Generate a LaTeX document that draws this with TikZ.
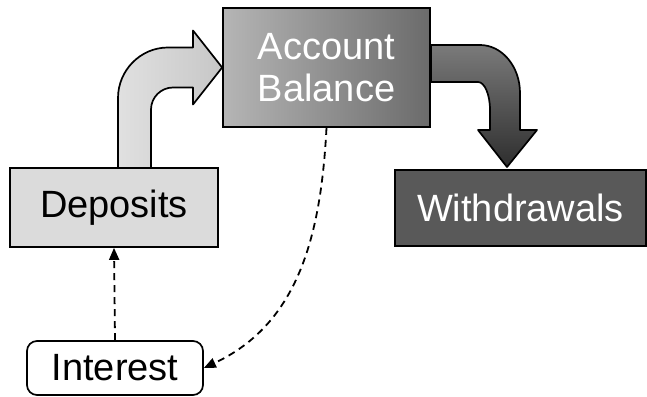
\documentclass[tikz,border=0pt]{standalone}
\usepackage{fontspec}
\setmainfont{Liberation Sans}
\usepackage{tikz}
\usetikzlibrary{arrows.meta, positioning, calc}

\begin{document}
\begin{tikzpicture}[
  x=0.5pt, y=0.5pt,
  box/.style      = {rectangle, draw=black, line width=0.85pt, inner sep=0pt,
                     font=\fontsize{19}{21}\selectfont, align=center},
  balance/.style  = {box, left color=black!29, right color=black!58, text=white,
                     minimum width=103.5pt, minimum height=59.5pt},
  deposit/.style  = {box, fill=black!14,
                     minimum width=104pt, minimum height=39.5pt},
  withdraw/.style = {box, fill=black!65, text=white,
                     minimum width=125.5pt, minimum height=38pt},
  extra/.style    = {box, rounded corners=5pt, fill=white,
                     minimum width=88pt, minimum height=27pt},
  bigarr/.style   = {draw=black, line width=0.85pt, line join=round},
  darr/.style     = {-{Triangle[length=6pt, width=5pt]}, line width=0.9pt,
                     dash pattern=on 3.5pt off 2.5pt}
]
\useasboundingbox (0,0) rectangle (647,396);

% ── Boxes ────────────────────────────────────────────────────────────────────
\node[balance]  (acct) at (326.5,328.5) {Account\\Balance};
\node[deposit]  (dep)  at (114,188.5)   {Deposits};
\node[withdraw] (wd)   at (520.5,188)   {Withdrawals};
\node[extra]    (int)  at (115,28)      {Interest};

% ── Block arrow: deposits into the balance ───────────────────────────────────
\path[bigarr, left color=black!12, middle color=black!36, right color=black!22]
  (118,228) -- (118,298) .. controls (118,325.6) and (140.4,348.5) .. (168,348.5)
  -- (193,348.5) -- (193,365.5) -- (acct.west) -- (193,291.5) -- (193,308.5)
  -- (173,308.5) .. controls (160.9,308.5) and (151,298.6) .. (151,286.5)
  -- (151,228) -- cycle;

% ── Block arrow: balance out to withdrawals ──────────────────────────────────
\path[bigarr, top color=black!52, bottom color=black!82]
  (431,351) -- (480,351) .. controls (502,351) and (520,329.5) .. (520,303)
  -- (520,266) -- (537,266) -- (507,229) -- (478,266) -- (490,266)
  -- (490,286) .. controls (490,301.5) and (484.6,314) .. (478,314)
  -- (431,314) -- cycle;

% ── Interest links ───────────────────────────────────────────────────────────
\draw[darr] (int.north) -- (dep.south);
\draw[darr] (acct.south) to[out=-93, in=25] (int.east);
\end{tikzpicture}
\end{document}
